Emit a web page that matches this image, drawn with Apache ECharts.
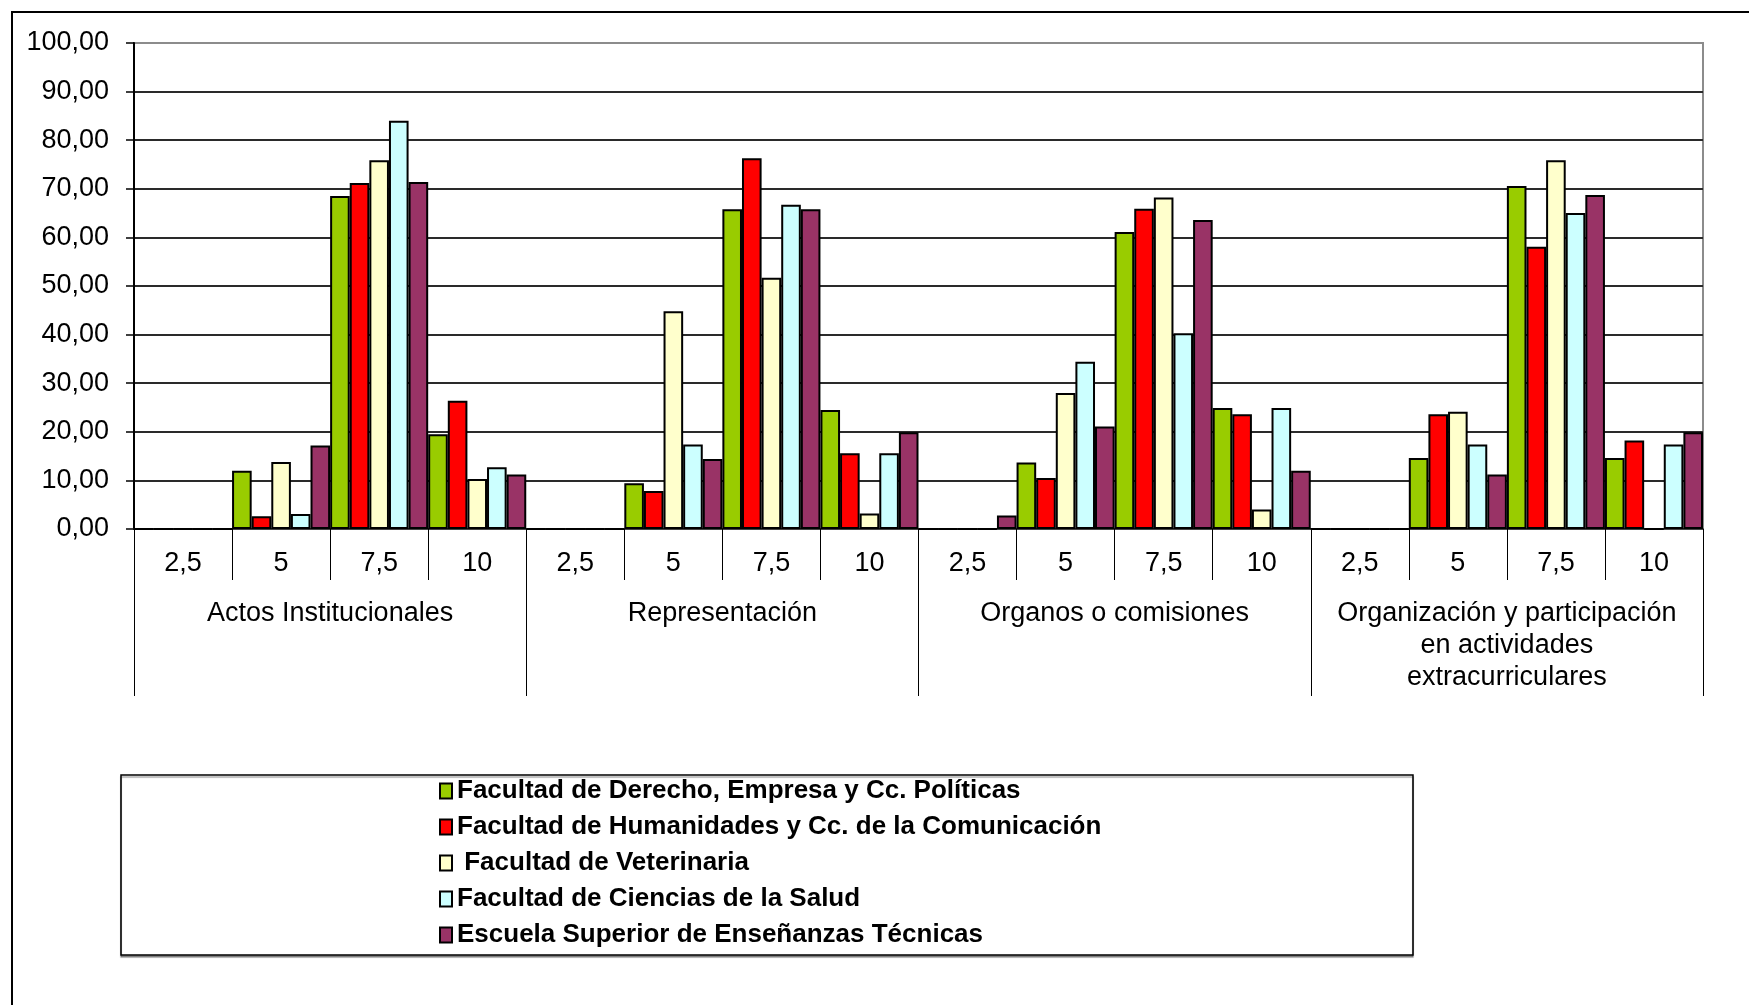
<!DOCTYPE html>
<html>
<head>
<meta charset="utf-8">
<script src="https://cdn.jsdelivr.net/npm/echarts@6/dist/echarts.min.js"></script>
<style>
html,body{margin:0;padding:0;background:#fff;}
#chart{width:1749px;height:1005px;}
</style>
</head>
<body>
<div id="chart"></div>
<script>
const levels = ['2,5', '5', '7,5', '10'];
const groups = ['Actos Institucionales', 'Representación', 'Organos o comisiones',
  'Organización y participación\nen actividades\nextracurriculares'];
const seriesNames = [
  'Facultad de Derecho, Empresa y Cc. Políticas',
  'Facultad de Humanidades y Cc. de la Comunicación',
  ' Facultad de Veterinaria',
  'Facultad de Ciencias de la Salud',
  'Escuela Superior de Enseñanzas Técnicas'
];
const derecho     = [0, 12.0, 68.5, 19.5, 0, 9.4, 65.8, 24.5, 0, 13.7, 61.1, 24.9, 0, 14.6, 70.6, 14.6];
const humanidades = [0, 2.6, 71.2, 26.4, 0, 7.8, 76.3, 15.6, 0, 10.5, 65.9, 23.6, 0, 23.6, 58.1, 18.2];
const veterinaria = [0, 13.8, 75.9, 10.3, 0, 44.8, 51.7, 3.2, 0, 28.0, 68.2, 4.0, 0, 24.1, 75.9, 0];
const salud       = [0, 3.1, 84.0, 12.7, 0, 17.4, 66.7, 15.6, 0, 34.4, 40.3, 24.9, 0, 17.4, 65.0, 17.4];
const escuela     = [0, 17.2, 71.4, 11.2, 0, 14.4, 65.8, 19.9, 2.8, 21.1, 63.6, 12.0, 0, 11.2, 68.7, 19.9];
const colors = ['#99CC00', '#FF0000', '#FFFFCC', '#CCFFFF', '#993366'];

const categories = [];
groups.forEach(() => levels.forEach(l => categories.push(l)));
const allData = [derecho, humanidades, veterinaria, salud, escuela];
const FONT = '"Liberation Sans", Arial, sans-serif';

const chart = echarts.init(document.getElementById('chart'), null, {renderer: 'canvas'});
const splitColors = [];
for (let i = 0; i < 11; i++) splitColors.push(i === 10 ? '#8c8c8c' : '#2a2a2a');

chart.setOption({
  animation: false,
  backgroundColor: '#fff',
  graphic: [
    {type: 'rect', shape: {x: 12, y: 12, width: 1800, height: 1100},
     style: {fill: 'none', stroke: '#000', lineWidth: 2}, silent: true},
    {type: 'rect', shape: {x: 121, y: 775, width: 1292, height: 180},
     style: {fill: '#fff', stroke: '#000', lineWidth: 1.5,
       shadowColor: 'rgba(0,0,0,0.35)', shadowOffsetY: 2, shadowOffsetX: 0, shadowBlur: 1}, silent: true, z: -1}
  ],
  grid: {left: 134, right: 46, top: 43, bottom: 476, show: true, borderColor: '#8c8c8c', borderWidth: 2, backgroundColor: 'transparent'},
  legend: {
    orient: 'vertical', left: 439, top: 778, padding: 0, itemGap: 10,
    itemWidth: 12, itemHeight: 15, icon: 'rect',
    textStyle: {fontFamily: FONT, fontSize: 26, fontWeight: 'bold', color: '#000', lineHeight: 26},
    data: seriesNames
  },
  xAxis: [
    {
      type: 'category', data: categories, position: 'bottom',
      axisLine: {show: true, lineStyle: {color: '#444', width: 2}},
      axisTick: {show: true, interval: 0, length: 51, lineStyle: {color: '#000', width: 1}},
      axisLabel: {interval: 0, margin: 21, fontFamily: FONT, fontSize: 27, color: '#000'},
      splitLine: {show: false}
    },
    {
      type: 'category', data: groups, position: 'bottom',
      axisLine: {show: false},
      axisTick: {show: true, interval: 0, length: 167, lineStyle: {color: '#000', width: 1}},
      axisLabel: {interval: 0, margin: 69, fontFamily: FONT, fontSize: 27, color: '#000', lineHeight: 32}
    }
  ],
  yAxis: {
    type: 'value', min: 0, max: 100, interval: 10,
    axisLine: {show: true, lineStyle: {color: '#000', width: 2}},
    axisTick: {show: true, length: 8, lineStyle: {color: '#000', width: 1.5}},
    axisLabel: {margin: 25, fontFamily: FONT, fontSize: 27, color: '#000',
      formatter: v => v.toFixed(2).replace('.', ',')},
    splitLine: {show: true, lineStyle: {color: splitColors, width: 2}}
  },
  series: seriesNames.map((name, i) => ({
    name: name, type: 'bar', xAxisIndex: 0,
    data: allData[i],
    barGap: '0%', barCategoryGap: '0%',
    itemStyle: {color: colors[i], borderColor: '#000', borderWidth: 2}
  }))
});
</script>
</body>
</html>
